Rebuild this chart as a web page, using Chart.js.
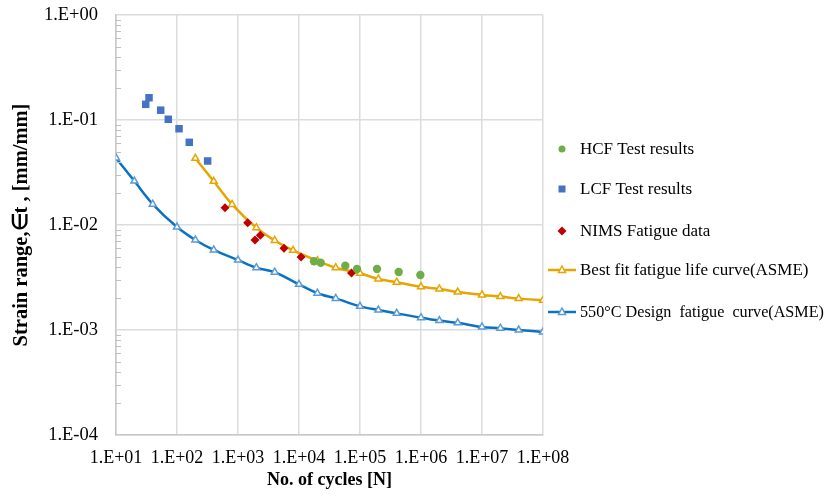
<!DOCTYPE html>
<html>
<head>
<meta charset="utf-8">
<script src="https://cdn.jsdelivr.net/npm/chart.js@4/dist/chart.umd.min.js"></script>
<style>
  html, body { margin: 0; padding: 0; background: #fff; }
  #wrap { width: 826px; height: 500px; }
</style>
</head>
<body>
<div id="wrap"><canvas id="myChart" width="826" height="500"></canvas></div>
<script>
// data
const hcfCycles = [17600, 22700, 57400, 89300, 190000, 431000, 975000];
const hcfStrain = [0.00451, 0.00437, 0.00410, 0.00381, 0.00381, 0.00357, 0.00334];

const lcfCycles = [30.7, 34.8, 54, 72, 108, 159, 318];
const lcfStrain = [0.141, 0.163, 0.124, 0.1016, 0.0826, 0.0613, 0.0407];

const nimsCycles = [612, 1440, 1900, 2320, 5680, 10800, 72600];
const nimsStrain = [0.0146, 0.0105, 0.0072, 0.0080, 0.0060, 0.00496, 0.00349];

const bestCycles = [200, 400, 800, 2000, 4000, 8000, 2e4, 4e4, 1e5, 2e5, 4e5, 1e6, 2e6, 4e6, 1e7, 2e7, 4e7, 1e8];
const bestStrain = [0.0432, 0.0261, 0.0157, 0.00943, 0.00712, 0.00574, 0.00457, 0.00392, 0.00347, 0.00306,
                    0.00285, 0.00258, 0.00246, 0.00230, 0.00216, 0.00208, 0.00199, 0.00192];

const designCycles = [10, 20, 40, 100, 200, 400, 1e3, 2e3, 4e3, 1e4, 2e4, 4e4, 1e5, 2e5, 4e5, 1e6, 2e6, 4e6, 1e7, 2e7, 4e7, 1e8];
const designStrain = [0.0435, 0.0262, 0.0158, 0.00957, 0.00720, 0.00578, 0.00464, 0.00392, 0.00355, 0.00272, 0.00224,
                      0.00200, 0.00168, 0.00155, 0.00144, 0.00131, 0.00123, 0.00117, 0.00107, 0.00104, 0.00100, 0.000957];

const xTicks = [1e1, 1e2, 1e3, 1e4, 1e5, 1e6, 1e7, 1e8];
const yTicks = [1e-4, 1e-3, 1e-2, 1e-1, 1e0];

const seriesNames = ['HCF Test results', 'LCF Test results', 'NIMS Fatigue data',
                     'Best fit fatigue life curve(ASME)', '550\u00B0C Design  fatigue  curve(ASME)'];

function pts(xs, ys) {
    return xs.map((x, i) => ({ x: x, y: ys[i] }));
}

function expLabel(v) {
    const e = Math.round(Math.log10(v));
    const s = e < 0 ? '-' : '+';
    const a = Math.abs(e);
    return '1.E' + s + (a < 10 ? '0' + a : a);
}

Chart.defaults.font.family = "'Liberation Serif', 'Times New Roman', serif";
Chart.defaults.color = '#000';

// minor tick marks on the left axis (inside the plot)
const minorTicks = {
    id: 'minorTicks',
    afterDraw(chart) {
        const ctx = chart.ctx;
        const y = chart.scales.y;
        const left = chart.chartArea.left;
        ctx.save();
        ctx.strokeStyle = '#bfbfbf';
        ctx.lineWidth = 1;
        for (let k = -4; k < 0; k++) {
            for (let m = 2; m <= 9; m++) {
                const py = Math.round(y.getPixelForValue(m * Math.pow(10, k))) + 0.5;
                ctx.beginPath();
                ctx.moveTo(left, py);
                ctx.lineTo(left + 5, py);
                ctx.stroke();
            }
        }
        ctx.restore();
    }
};

// legend drawn like the spreadsheet one
const sideLegend = {
    id: 'sideLegend',
    afterDraw(chart) {
        const ctx = chart.ctx;
        const x0 = 548, cx = 562, tx = 580;
        const rows = [149, 189, 231, 270, 312];
        ctx.save();
        chart.data.datasets.forEach((ds, i) => {
            const y = rows[i];
            if (ds.showLine) {
                ctx.strokeStyle = ds.borderColor;
                ctx.lineWidth = 2.5;
                ctx.beginPath();
                ctx.moveTo(x0, y);
                ctx.lineTo(x0 + 28, y);
                ctx.stroke();
                ctx.fillStyle = '#fff';
                ctx.strokeStyle = ds.pointBorderColor;
                ctx.lineWidth = 1.5;
                ctx.beginPath();
                ctx.moveTo(cx, y - 4);
                ctx.lineTo(cx + 3.5, y + 2.5);
                ctx.lineTo(cx - 3.5, y + 2.5);
                ctx.closePath();
                ctx.fill();
                ctx.stroke();
            } else {
                ctx.fillStyle = ds.backgroundColor;
                ctx.beginPath();
                if (ds.pointStyle === 'circle') {
                    ctx.arc(cx, y, 3.5, 0, Math.PI * 2);
                } else if (ds.pointStyle === 'rect') {
                    ctx.rect(cx - 3.5, y - 3.5, 7, 7);
                } else {
                    ctx.moveTo(cx, y - 4.5);
                    ctx.lineTo(cx + 4.5, y);
                    ctx.lineTo(cx, y + 4.5);
                    ctx.lineTo(cx - 4.5, y);
                    ctx.closePath();
                }
                ctx.fill();
            }
            ctx.fillStyle = '#000';
            ctx.font = "17px 'Liberation Serif', 'Times New Roman', serif";
            ctx.textBaseline = 'middle';
            ctx.textAlign = 'left';
            ctx.fillText(ds.label, tx, y + 1, 244);
        });
        ctx.restore();
    }
};

const data = {
    datasets: [{
        label: seriesNames[0],
        data: pts(hcfCycles, hcfStrain),
        showLine: false,
        pointStyle: 'circle',
        pointRadius: 4.2,
        backgroundColor: '#70AD47',
        borderColor: '#70AD47',
        pointBorderWidth: 0
    }, {
        label: seriesNames[1],
        data: pts(lcfCycles, lcfStrain),
        showLine: false,
        pointStyle: 'rect',
        pointRadius: 5.3,
        backgroundColor: '#4472C4',
        borderColor: '#4472C4',
        pointBorderWidth: 0
    }, {
        label: seriesNames[2],
        data: pts(nimsCycles, nimsStrain),
        showLine: false,
        pointStyle: 'rectRot',
        pointRadius: 4.5,
        backgroundColor: '#C00000',
        borderColor: '#C00000',
        pointBorderWidth: 0
    }, {
        label: seriesNames[3],
        data: pts(bestCycles, bestStrain),
        showLine: true,
        borderColor: '#E6A500',
        borderWidth: 2.5,
        cubicInterpolationMode: 'monotone',
        pointStyle: 'triangle',
        pointRadius: 4,
        pointBackgroundColor: '#fff',
        pointBorderColor: '#E6A500',
        pointBorderWidth: 1.5
    }, {
        label: seriesNames[4],
        data: pts(designCycles, designStrain),
        showLine: true,
        borderColor: '#0A72C4',
        borderWidth: 2.5,
        cubicInterpolationMode: 'monotone',
        pointStyle: 'triangle',
        pointRadius: 4,
        pointBackgroundColor: '#fff',
        pointBorderColor: '#5B9BD5',
        pointBorderWidth: 1.5
    }]
};

const config = {
    type: 'scatter',
    data,
    options: {
        responsive: false,
        animation: false,
        layout: { padding: { left: 0, right: 283, top: 15, bottom: 0 } },
        plugins: {
            legend: { display: false },
            tooltip: { enabled: false }
        },
        scales: {
            x: {
                type: 'logarithmic',
                min: 1e1,
                max: 1e8,
                afterBuildTicks: (s) => { s.ticks = xTicks.map(v => ({ value: v })); },
                afterFit: (s) => { s.height = 65; },
                ticks: {
                    autoSkip: false,
                    maxRotation: 0,
                    padding: 12,
                    font: { size: 18 },
                    callback: (v) => expLabel(v)
                },
                grid: { color: '#dcdcdc', lineWidth: 1.5, drawTicks: false },
                border: { color: '#c8c8c8', width: 1.5 },
                title: {
                    display: true,
                    text: 'No. of cycles [N]',
                    font: { size: 18, weight: 'bold' },
                    padding: { top: 0, bottom: 9 }
                }
            },
            y: {
                type: 'logarithmic',
                min: 1e-4,
                max: 1e0,
                afterBuildTicks: (s) => { s.ticks = yTicks.map(v => ({ value: v })); },
                afterFit: (s) => { s.width = 116; s.paddingTop = 0; s.paddingBottom = 0; },
                ticks: {
                    padding: 18,
                    font: { size: 18.5 },
                    callback: (v) => expLabel(v)
                },
                grid: { color: '#dcdcdc', lineWidth: 1.5, drawTicks: false },
                border: { color: '#c8c8c8', width: 1.5 },
                title: {
                    display: true,
                    text: 'Strain range,\u2208t , [mm/mm]',
                    font: { size: 20.5, weight: 'bold' },
                    padding: { top: 9, bottom: 0 }
                }
            }
        }
    },
    plugins: [minorTicks, sideLegend]
};

const myChart = new Chart(document.getElementById('myChart'), config);
</script>
</body>
</html>
